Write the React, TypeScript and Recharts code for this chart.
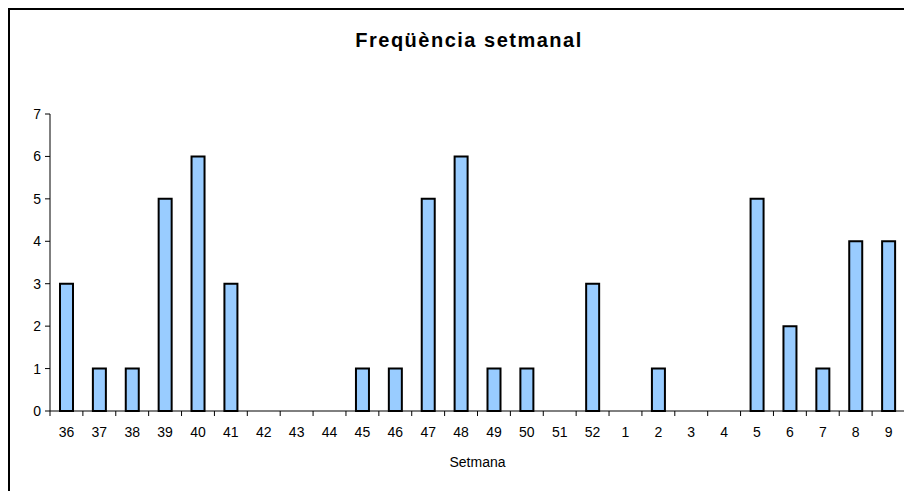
import { BarChart, Bar, XAxis, YAxis } from "recharts";

const weeks = [
  "36", "37", "38", "39", "40", "41", "42", "43", "44", "45", "46", "47", "48",
  "49", "50", "51", "52", "1", "2", "3", "4", "5", "6", "7", "8", "9",
];
const counts = [3, 1, 1, 5, 6, 3, 0, 0, 0, 1, 1, 5, 6, 1, 1, 0, 3, 0, 1, 0, 0, 5, 2, 1, 4, 4];
const yTicks = [0, 1, 2, 3, 4, 5, 6, 7];

const FONT = '"Liberation Sans", Arial, Helvetica, sans-serif';
const CHART_W = 902;
const CHART_H = 481;
const MARGIN = { top: 104, right: 7, left: 0, bottom: 0 };
const Y_AXIS_W = 40;
const PLOT_W = CHART_W - MARGIN.left - MARGIN.right - Y_AXIS_W;
const BAND = PLOT_W / weeks.length;

const chartData = weeks.map((w, i) => ({ week: w, count: counts[i] }));

const WeekTick = ({ x, y, payload, index }: any) => (
  <g>
    {index === 0 && (
      <line x1={x - BAND / 2} y1={y} x2={x - BAND / 2} y2={y + 5} stroke="#000" />
    )}
    <line x1={x + BAND / 2} y1={y} x2={x + BAND / 2} y2={y + 5} stroke="#000" />
    <text
      x={x}
      y={y + 21}
      dy="0.35em"
      textAnchor="middle"
      fontSize={14}
      fontFamily={FONT}
      fill="#000"
    >
      {payload.value}
    </text>
  </g>
);

export default function App() {
  return (
    <div
      style={{
        position: "relative",
        width: CHART_W,
        height: CHART_H,
        borderTop: "2px solid #000",
        borderLeft: "2px solid #000",
        background: "#fff",
        fontFamily: FONT,
      }}
    >
      <div
        style={{
          position: "absolute",
          left: 259,
          width: 400,
          top: 18,
          lineHeight: "24px",
          textAlign: "center",
          fontSize: 20,
          fontWeight: "bold",
          letterSpacing: 1.5,
          whiteSpace: "nowrap",
          color: "#000",
        }}
      >
        Freqüència setmanal
      </div>
      <BarChart width={CHART_W} height={CHART_H} data={chartData} margin={MARGIN} barSize={13}>
        <XAxis
          dataKey="week"
          height={CHART_H - MARGIN.top - 297}
          interval={0}
          tickSize={0}
          tickMargin={0}
          tickLine={false}
          axisLine={{ stroke: "#000" }}
          tick={<WeekTick />}
          label={{
            value: "Setmana",
            position: "insideBottom",
            offset: 24,
            fontSize: 14,
            fontFamily: FONT,
            fill: "#000",
          }}
        />
        <YAxis
          width={Y_AXIS_W}
          domain={[0, 7]}
          ticks={yTicks}
          interval={0}
          tickSize={5}
          tickMargin={4}
          axisLine={{ stroke: "#000" }}
          tickLine={{ stroke: "#000" }}
          tick={{ fill: "#000", fontSize: 14, fontFamily: FONT }}
        />
        <Bar
          dataKey="count"
          fill="#99CCFF"
          stroke="#000"
          strokeWidth={2}
          isAnimationActive={false}
        />
      </BarChart>
    </div>
  );
}
